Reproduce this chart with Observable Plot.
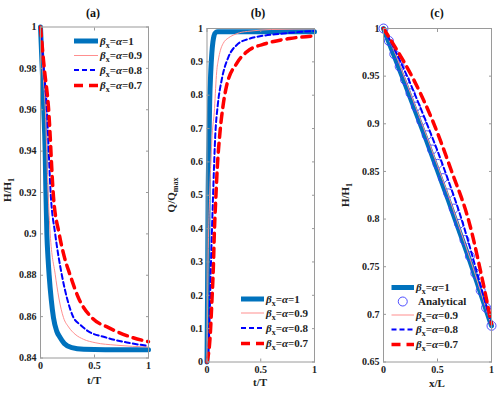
<!DOCTYPE html>
<html><head><meta charset="utf-8">
<script src="https://cdn.jsdelivr.net/npm/d3@7"></script>
<script src="https://cdn.jsdelivr.net/npm/@observablehq/plot@0.6"></script>
<style>
body{margin:0;background:#fff;}
#wrap{position:relative;width:500px;height:393px;overflow:hidden;}
</style></head><body><div id="wrap"></div>
<script>
// ---------------- data ----------------
// Panel (a): H/H1 vs t/T
const aT1 = [0, 0.016, 0.03, 0.043, 0.05, 0.059, 0.07, 0.08, 0.1, 0.12, 0.15, 0.18, 0.22, 0.29, 0.4, 0.6, 1];
const aH1 = [1, 0.98, 0.96, 0.94, 0.92, 0.90, 0.888, 0.88, 0.868, 0.8595, 0.853, 0.85, 0.847, 0.845, 0.8442, 0.844, 0.844];
const aT09 = [0, 0.02, 0.045, 0.07, 0.09, 0.136, 0.17, 0.213, 0.26, 0.32, 0.4, 0.506, 0.7, 1];
const aH09 = [1, 0.98, 0.96, 0.92, 0.9, 0.8805, 0.869, 0.8595, 0.855, 0.8515, 0.849, 0.8474, 0.8462, 0.8453];
const aT08 = [0, 0.03, 0.058, 0.096, 0.136, 0.198, 0.25, 0.306, 0.37, 0.44, 0.6, 0.8, 1];
const aH08 = [1, 0.98, 0.961, 0.918, 0.9, 0.88, 0.868, 0.8595, 0.856, 0.853, 0.85, 0.8475, 0.8458];
const aT07 = [0, 0.035, 0.074, 0.12, 0.173, 0.22, 0.275, 0.352, 0.475, 0.63, 0.845, 1];
const aH07 = [1, 0.98, 0.961, 0.918, 0.9, 0.889, 0.88, 0.869, 0.8595, 0.8547, 0.85, 0.8479];

// Panel (b): Q/Qmax vs t/T
const bT1 = [0, 0.005, 0.01, 0.018, 0.025, 0.035, 0.045, 0.055, 0.065, 0.08, 0.1, 1];
const bQ1 = [0, 0.2, 0.48, 0.65, 0.78, 0.87, 0.926, 0.96, 0.978, 0.988, 0.99, 0.99];
const bT09 = [0, 0.01, 0.025, 0.048, 0.07, 0.08, 0.09, 0.105, 0.125, 0.15, 0.2, 0.244, 0.3, 0.4, 0.6, 1];
const bQ09 = [0, 0.3, 0.5, 0.68, 0.76, 0.82, 0.87, 0.905, 0.935, 0.955, 0.972, 0.98, 0.987, 0.992, 0.997, 0.999];
const bT08 = [0, 0.02, 0.036, 0.055, 0.078, 0.1, 0.136, 0.2, 0.275, 0.4, 0.71, 1];
const bQ08 = [0, 0.086, 0.284, 0.485, 0.686, 0.77, 0.845, 0.915, 0.95, 0.97, 0.985, 0.993];
const bT07 = [0, 0.031, 0.046, 0.059, 0.068, 0.081, 0.096, 0.12, 0.15, 0.18, 0.275, 0.37, 0.55, 0.77, 1];
const bQ07 = [0, 0.086, 0.185, 0.284, 0.385, 0.485, 0.585, 0.686, 0.77, 0.825, 0.895, 0.93, 0.955, 0.97, 0.978];

// Panel (c): H/H1 vs x/L
const cX = [0, 0.1, 0.2, 0.3, 0.4, 0.5, 0.6, 0.7, 0.8, 0.9, 1];
const cH1 = [1, 0.971, 0.942, 0.912, 0.882, 0.851, 0.820, 0.788, 0.756, 0.722, 0.688];
const cH09 = [1, 0.976, 0.947, 0.917, 0.887, 0.856, 0.825, 0.792, 0.759, 0.724, 0.688];
const cX08 = [0, 0.09, 0.228, 0.388, 0.567, 0.736, 0.89, 1];
const cH08 = [1, 0.981, 0.9475, 0.904, 0.851, 0.795, 0.734, 0.689];
const cX07 = [0, 0.105, 0.274, 0.452, 0.628, 0.797, 0.92, 1];
const cH07 = [1, 0.981, 0.9475, 0.904, 0.851, 0.795, 0.734, 0.69];
const cXan = [0, 0.05, 0.1, 0.15, 0.2, 0.25, 0.3, 0.35, 0.4, 0.45, 0.5, 0.55, 0.6, 0.65, 0.7, 0.75, 0.8, 0.85, 0.9, 0.95, 1];
const cHan = [1, 0.987, 0.973, 0.960, 0.946, 0.932, 0.918, 0.903, 0.888, 0.873, 0.858, 0.843, 0.827, 0.811, 0.795, 0.778, 0.761, 0.743, 0.725, 0.707, 0.688];

// ticks
const xTicks = [0, 0.5, 1];
const yTicksA = [0.84, 0.86, 0.88, 0.9, 0.92, 0.94, 0.96, 0.98, 1];
const yTicksB = [0, 0.1, 0.2, 0.3, 0.4, 0.5, 0.6, 0.7, 0.8, 0.9, 1];
const yTicksC = [0.65, 0.7, 0.75, 0.8, 0.85, 0.9, 0.95, 1];

const legendLabels = ["1", "0.9", "0.8", "0.7"];

// ---------------- styles ----------------
const FONT = "Liberation Serif";
const S1 = {stroke: "#0072BD", strokeWidth: 5, dash: null};
const S09 = {stroke: "#ff8f8f", strokeWidth: 1, dash: null};
const S08 = {stroke: "#0000ff", strokeWidth: 2, dash: "5,3"};
const S07 = {stroke: "#ff0000", strokeWidth: 3.5, dash: "9,6"};
const CIRC = "#3b3bff";
const FRAME = "#9a9a9a";
const fmt = d3.format("~g");
const wrap = document.getElementById("wrap");

function rows(xs, ys) { return xs.map((x, i) => ({x, y: ys[i]})); }

function lineMark(data, s) {
  return Plot.line(data, {x: "x", y: "y", stroke: s.stroke, strokeWidth: s.strokeWidth,
    strokeDasharray: s.dash, curve: "monotone-x"});
}

function panel(cfg) {
  const {left, width, mL, mR, mT, mB, yDomain, yTicks, series, extra = []} = cfg;
  const marks = [
    ...series.map(([d, s]) => lineMark(d, s)),
    ...extra,
    Plot.frame({stroke: FRAME}),
    Plot.axisX(xTicks, {anchor: "bottom", tickSize: -3, tickFormat: () => "", label: null, stroke: FRAME}),
    Plot.axisX(xTicks, {anchor: "top", tickSize: -3, tickFormat: () => "", label: null, stroke: FRAME}),
    Plot.axisY(yTicks, {anchor: "left", tickSize: -3, tickFormat: () => "", label: null, stroke: FRAME}),
    Plot.axisY(yTicks, {anchor: "right", tickSize: -3, tickFormat: () => "", label: null, stroke: FRAME}),
    Plot.axisX(xTicks, {anchor: "bottom", tickSize: 0, tickPadding: 4, tickFormat: fmt, label: null,
      fill: "#222", fontWeight: "bold", fontSize: 10}),
    Plot.axisY(yTicks, {anchor: "left", tickSize: 0, tickPadding: 4, tickFormat: fmt, label: null,
      fill: "#222", fontWeight: "bold", fontSize: 10})
  ];
  const svgEl = Plot.plot({
    width, height: 393,
    marginLeft: mL, marginRight: mR, marginTop: mT, marginBottom: mB,
    x: {domain: [0, 1]},
    y: {domain: yDomain},
    style: {fontFamily: FONT, background: "transparent", overflow: "visible"},
    marks
  });
  svgEl.style.position = "absolute";
  svgEl.style.left = left + "px";
  svgEl.style.top = "0px";
  wrap.appendChild(svgEl);
  const svg = d3.select(svgEl);
  const txt = () => svg.append("text").attr("font-family", FONT).attr("font-weight", "bold").attr("fill", "#222");
  // title
  txt().attr("x", cfg.titleX - left).attr("y", 17).attr("text-anchor", "middle")
    .attr("font-size", 12).attr("fill", "#111").text(cfg.title);
  // x label
  txt().attr("x", cfg.xLabelX - left).attr("y", cfg.xLabelY).attr("text-anchor", "middle")
    .attr("font-size", 11).text(cfg.xLabel);
  // y label with subscript
  const yl = txt()
    .attr("transform", `translate(${cfg.yLabelX - left},${cfg.yLabelY}) rotate(-90)`)
    .attr("text-anchor", "middle").attr("font-size", 11);
  yl.append("tspan").text(cfg.yLabel[0]);
  yl.append("tspan").attr("font-size", 8).attr("dy", 3).text(cfg.yLabel[1]);
  // legend
  cfg.legend.forEach((e, i) => {
    const y = cfg.legY[i];
    const x0 = cfg.legX0 - left, x1 = cfg.legX1 - left;
    if (e.type === "circle") {
      svg.append("circle").attr("cx", (x0 + x1) / 2).attr("cy", y).attr("r", 4.5)
        .attr("fill", "none").attr("stroke", CIRC).attr("stroke-width", 0.9);
    } else {
      svg.append("line").attr("x1", x0).attr("x2", x1).attr("y1", y).attr("y2", y)
        .attr("stroke", e.s.stroke).attr("stroke-width", e.s.strokeWidth)
        .attr("stroke-dasharray", e.s.dash);
    }
    const t = txt().attr("text-anchor", "start")
      .attr("x", cfg.legTextX - left + (e.type === "circle" ? 2 : 0)).attr("y", y + 3.5)
      .attr("font-size", 11);
    if (e.type === "circle") {
      t.text(e.text);
    } else {
      t.append("tspan").attr("font-style", "italic").text("β");
      t.append("tspan").attr("font-size", 8).attr("dy", 3).text("x");
      t.append("tspan").attr("dy", -3).text("=");
      t.append("tspan").attr("font-style", "italic").text("α");
      t.append("tspan").text("=" + e.text);
    }
  });
}

const legend4 = [
  {s: S1, text: legendLabels[0]},
  {s: S09, text: legendLabels[1]},
  {s: S08, text: legendLabels[2]},
  {s: S07, text: legendLabels[3]}
];

panel({
  left: 0, width: 160, mL: 40, mR: 12, mT: 26.5, mB: 35.5,
  yDomain: [0.84, 1], yTicks: yTicksA,
  series: [[rows(aT1, aH1), S1], [rows(aT09, aH09), S09], [rows(aT08, aH08), S08], [rows(aT07, aH07), S07]],
  title: "(a)", titleX: 93,
  xLabel: "t/T", xLabelX: 94, xLabelY: 384,
  yLabel: ["H/H", "1"], yLabelX: 10.5, yLabelY: 190,
  legend: legend4, legX0: 74, legX1: 98, legTextX: 100, legY: [41, 55.5, 70, 85.5]
});

panel({
  left: 166, width: 160, mL: 40.5, mR: 12, mT: 28, mB: 31.5,
  yDomain: [0, 1], yTicks: yTicksB,
  series: [[rows(bT1, bQ1), S1], [rows(bT09, bQ09), S09], [rows(bT08, bQ08), S08], [rows(bT07, bQ07), S07]],
  title: "(b)", titleX: 258,
  xLabel: "t/T", xLabelX: 260, xLabelY: 386,
  yLabel: ["Q/Q", "max"], yLabelX: 175, yLabelY: 195,
  legend: legend4, legX0: 241, legX1: 264, legTextX: 266, legY: [299, 313, 328, 343.5]
});

panel({
  left: 333, width: 167, mL: 50, mR: 9, mT: 28, mB: 31.5,
  yDomain: [0.65, 1], yTicks: yTicksC,
  series: [[rows(cX, cH1), S1]],
  extra: [
    Plot.dot(rows(cXan, cHan), {x: "x", y: "y", r: 4.5, stroke: CIRC, strokeWidth: 0.9, fill: "none"}),
    lineMark(rows(cX, cH09), S09),
    lineMark(rows(cX08, cH08), S08),
    lineMark(rows(cX07, cH07), S07)
  ],
  title: "(c)", titleX: 437,
  xLabel: "x/L", xLabelX: 437, xLabelY: 387,
  yLabel: ["H/H", "1"], yLabelX: 349, yLabelY: 195,
  legend: [
    {s: S1, text: legendLabels[0]},
    {type: "circle", text: "Analytical"},
    {s: S09, text: legendLabels[1]},
    {s: S08, text: legendLabels[2]},
    {s: S07, text: legendLabels[3]}
  ],
  legX0: 391.5, legX1: 414, legTextX: 416, legY: [287.5, 301.5, 315, 329.5, 344.5]
});
</script></body></html>
